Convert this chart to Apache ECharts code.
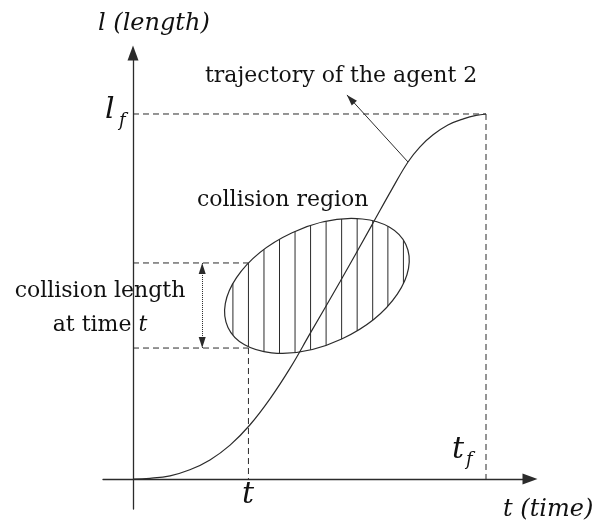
<!DOCTYPE html>
<html>
<head>
<meta charset="utf-8">
<script src="https://cdn.jsdelivr.net/npm/echarts@6/dist/echarts.min.js"></script>
<style>
  html, body { margin: 0; padding: 0; background: #fff; }
  #chart { width: 609px; height: 528px; }
</style>
</head>
<body>
<div id="chart"></div>
<script>
// trajectory of agent 2 (t, l)
const tCurve = [0, 0.48, 1.05, 1.61, 2.18, 2.75, 3.31, 3.88, 4.45, 5.01, 5.86, 6.77, 7.34, 7.79, 8.13, 8.50, 8.92, 9.38, 9.72, 10];
const lCurve = [0, 0.02, 0.09, 0.26, 0.54, 0.96, 1.53, 2.27, 3.14, 4.11, 5.58, 7.20, 8.22, 8.98, 9.41, 9.75, 10.03, 10.21, 10.30, 10.34];

// key values
const tf = 10, lf = 10.34;
const tMark = 3.27;
const lHigh = 6.12, lLow = 3.71;
const tSpan = 1.96;               // where the collision length arrow sits

// collision region (ellipse) : centre, semi axes, tilt in degrees
const ellCenter = [5.21, 5.47];
const ellAxes = [2.78, 1.66];
const ellTilt = 25;
const hatchT = [2.83, 3.27, 3.71, 4.15, 4.59, 5.03, 5.47, 5.91, 6.35, 6.79, 7.22, 7.66];

// pointer to the trajectory
const pointerFrom = [7.79, 8.98], pointerTo = [6.06, 10.88];

const ink = '#2b2b2b';
const serif = '"DejaVu Serif", serif';

const guides = [
  [[0, lf], [tf, lf]],
  [[tf, lf], [tf, 0]],
  [[0, lHigh], [tMark, lHigh]],
  [[0, lLow], [tMark, lLow]],
  [[tMark, lLow], [tMark, 0]]
];

const th = ellTilt * Math.PI / 180;
function hatchEnds(t) {
  const a = ellAxes[0], b = ellAxes[1];
  const c = Math.cos(th), s = Math.sin(th);
  const dx = t - ellCenter[0];
  const A = s * s / (a * a) + c * c / (b * b);
  const B = 2 * dx * (c * s / (a * a) - s * c / (b * b));
  const C = dx * dx * (c * c / (a * a) + s * s / (b * b)) - 1;
  const D = B * B - 4 * A * C;
  if (D <= 0) return null;
  const r = Math.sqrt(D);
  return [ellCenter[1] + (-B - r) / (2 * A), ellCenter[1] + (-B + r) / (2 * A)];
}

const series = [];
guides.forEach(g => {
  series.push({
    type: 'line', data: g, symbol: 'none', silent: true,
    lineStyle: { color: ink, width: 1, type: [6, 4] }
  });
});
series.push({
  type: 'line', smooth: 0.4, symbol: 'none', silent: true,
  data: tCurve.map((t, i) => [t, lCurve[i]]),
  lineStyle: { color: ink, width: 1.2 }
});
series.push({
  type: 'custom', silent: true,
  data: [ellCenter],
  renderItem: (params, api) => {
    const p = api.coord([api.value(0), api.value(1)]);
    const rx = api.size([ellAxes[0], 0])[0];
    const ry = api.size([0, ellAxes[1]])[1];
    return {
      type: 'ellipse', x: p[0], y: p[1], rotation: th,
      shape: { cx: 0, cy: 0, rx: rx, ry: ry },
      style: { fill: 'none', stroke: ink, lineWidth: 1.2 }
    };
  }
});
series.push({
  type: 'custom', silent: true,
  data: hatchT.map(t => [t, ellCenter[1]]),
  renderItem: (params, api) => {
    const t = api.value(0);
    const e = hatchEnds(t);
    if (!e) return null;
    const p1 = api.coord([t, e[0]]), p2 = api.coord([t, e[1]]);
    return {
      type: 'line',
      shape: { x1: p1[0], y1: p1[1], x2: p2[0], y2: p2[1] },
      style: { stroke: ink, lineWidth: 1 }
    };
  }
});
series.push({
  type: 'line', data: [], silent: true,
  markLine: {
    silent: true, animation: false,
    label: { show: false },
    symbol: ['triangle', 'triangle'],
    symbolSize: [7, 11],
    symbolOffset: [[0, '50%'], [0, '50%']],
    lineStyle: { color: ink, width: 1, type: 'dotted' },
    data: [[{ coord: [tSpan, lHigh] }, { coord: [tSpan, lLow] }]]
  }
});
series.push({
  type: 'line', data: [], silent: true,
  markLine: {
    silent: true, animation: false,
    label: { show: false },
    symbol: ['none', 'triangle'],
    symbolSize: [7, 11],
    symbolOffset: [0, [0, '50%']],
    lineStyle: { color: ink, width: 1, type: 'solid' },
    data: [[{ coord: pointerFrom }, { coord: pointerTo }]]
  }
});

function txt(x, y, text, size, italic, align) {
  return {
    type: 'text', x: x, y: y, silent: true,
    style: {
      text: text, fill: '#111',
      font: (italic ? 'italic ' : '') + size + 'px ' + serif,
      align: align || 'left', verticalAlign: 'middle'
    }
  };
}

const chart = echarts.init(document.getElementById('chart'), null, { renderer: 'canvas' });
chart.setOption({
  animation: false,
  backgroundColor: '#fff',
  grid: { left: 103, right: 79, top: 53, bottom: 19 },
  xAxis: {
    type: 'value', min: -0.85, max: 11.246,
    axisLine: { onZero: true, symbol: ['none', 'triangle'], symbolSize: [11, 15], lineStyle: { color: ink, width: 1.3 } },
    axisTick: { show: false }, axisLabel: { show: false }, splitLine: { show: false }
  },
  yAxis: {
    type: 'value', min: -0.85, max: 12.068,
    axisLine: { onZero: true, symbol: ['none', 'triangle'], symbolSize: [11, 15], lineStyle: { color: ink, width: 1.3 } },
    axisTick: { show: false }, axisLabel: { show: false }, splitLine: { show: false }
  },
  series: series,
  graphic: [
    txt(98, 24, 'l (length)', 24, true),
    txt(205, 76, 'trajectory of the agent 2', 22, false),
    txt(197, 200, 'collision region', 22, false),
    txt(100, 291, 'collision length', 22, false, 'center'),
    {
      type: 'text', x: 100, y: 325, silent: true,
      style: {
        text: '{n|at time }{i|t}', align: 'center', verticalAlign: 'middle',
        rich: {
          n: { font: '22px ' + serif, fill: '#111' },
          i: { font: 'italic 22px ' + serif, fill: '#111' }
        }
      }
    },
    txt(248, 495, 't', 30, true, 'center'),
    txt(503, 510, 't (time)', 24, true),
    txt(105, 110, 'l', 30, true),
    txt(119, 121, 'f', 18, true),
    txt(452, 450, 't', 30, true),
    txt(466, 460, 'f', 18, true)
  ]
});
</script>
</body>
</html>
